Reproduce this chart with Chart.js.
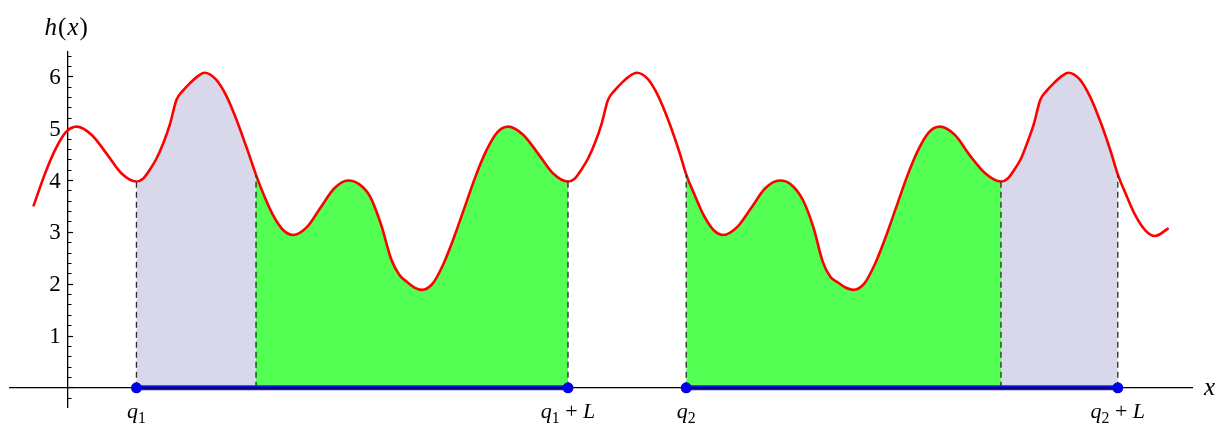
<!DOCTYPE html>
<html>
<head>
<meta charset="utf-8">
<script src="https://cdn.jsdelivr.net/npm/chart.js@4.4.0/dist/chart.umd.min.js"></script>
<style>
  html, body { margin: 0; padding: 0; background: #fff; }
  canvas { display: block; }
</style>
</head>
<body>
<canvas id="plot" width="1220" height="423"></canvas>
<script>
// curve h(x)
const curveX = [-0.50, -0.34, -0.18, -0.03, 0.13, 0.35, 0.57, 0.78, 1.00, 1.10,
    1.19, 1.29, 1.39, 1.49, 1.58, 1.68, 1.78, 1.88, 1.99, 2.15,
    2.31, 2.46, 2.61, 2.74, 2.86, 2.98, 3.13, 3.28, 3.48, 3.68,
    3.88, 4.08, 4.24, 4.40, 4.56, 4.71, 4.83, 4.93, 5.04, 5.15,
    5.31, 5.47, 5.62, 5.78, 5.94, 6.10, 6.25, 6.41, 6.63, 6.85,
    7.06, 7.28, 7.38, 7.47, 7.57, 7.67, 7.77, 7.86, 7.96, 8.06,
    8.16, 8.28, 8.44, 8.60, 8.76, 8.90, 9.00, 9.12, 9.25, 9.40,
    9.54, 9.74, 9.95, 10.15, 10.36, 10.52, 10.70, 10.85, 10.99, 11.10,
    11.20, 11.31, 11.43, 11.59, 11.75, 11.90, 12.06, 12.22, 12.38, 12.53,
    12.69, 12.91, 13.13, 13.35, 13.58, 13.68, 13.77, 13.87, 13.96, 14.06,
    14.15, 14.25, 14.35, 14.45, 14.56, 14.72, 14.88, 15.04, 15.18, 15.28,
    15.40, 15.53, 15.68, 15.82, 16.02]
const curveY = [3.50, 4.10, 4.60, 4.93, 5.04, 4.88, 4.51, 4.14, 3.98, 4.04,
    4.20, 4.42, 4.72, 5.10, 5.55, 5.74, 5.88, 6.00, 6.08, 5.96,
    5.63, 5.16, 4.61, 4.11, 3.70, 3.35, 3.05, 2.95, 3.10, 3.48,
    3.85, 4.00, 3.93, 3.69, 3.15, 2.47, 2.17, 2.05, 1.94, 1.89,
    2.01, 2.40, 2.90, 3.50, 4.10, 4.60, 4.93, 5.04, 4.88, 4.51,
    4.14, 3.98, 4.04, 4.20, 4.42, 4.72, 5.10, 5.55, 5.74, 5.88,
    6.00, 6.08, 5.96, 5.61, 5.09, 4.55, 4.12, 3.73, 3.34, 3.04,
    2.95, 3.10, 3.48, 3.85, 4.00, 3.93, 3.62, 3.10, 2.42, 2.14,
    2.04, 1.94, 1.89, 2.01, 2.40, 2.90, 3.50, 4.10, 4.60, 4.93,
    5.04, 4.88, 4.48, 4.14, 3.98, 4.04, 4.20, 4.42, 4.72, 5.10,
    5.55, 5.74, 5.88, 6.00, 6.08, 5.96, 5.61, 5.09, 4.55, 4.12,
    3.73, 3.34, 3.04, 2.93, 3.08]

// q1, split, q1+L, q2, split, q2+L
const markX = [1.00, 2.74, 7.28, 9.00, 13.58, 15.28]
const bandColors = ['rgb(216,216,234)', 'rgb(84,255,84)', null, 'rgb(84,255,84)', 'rgb(216,216,234)']
const tickLabels = ['q1', 'q1 + L', 'q2', 'q2 + L']
const tickAt = [0, 2, 3, 5]

const heightAt = (x) => curveY[curveX.findIndex(v => Math.abs(v - x) < 1e-9)]

function bandColor(ctx) {
    const m = (ctx.p0.parsed.x + ctx.p1.parsed.x) / 2
    for (let i = 0; i < bandColors.length; i++) {
        if (bandColors[i] && m > markX[i] && m < markX[i + 1]) return bandColors[i]
    }
    return 'rgba(0,0,0,0)'
}

const baseLine = [
    { x: markX[0], y: 0 }, { x: markX[2], y: 0 },
    { x: (markX[2] + markX[3]) / 2, y: null },
    { x: markX[3], y: 0 }, { x: markX[5], y: 0 }
]

const datasets = [{
    data: curveX.map((x, i) => ({ x: x, y: curveY[i] })),
    borderColor: 'rgb(255,0,0)',
    borderWidth: 2.6,
    pointRadius: 0,
    cubicInterpolationMode: 'monotone',
    fill: 'origin',
    segment: { backgroundColor: bandColor },
    order: 5
}]
markX.forEach(m => {
    datasets.push({
        data: [{ x: m, y: 0 }, { x: m, y: heightAt(m) }],
        borderColor: '#2a2a2a',
        borderWidth: 1.3,
        borderDash: [6, 4],
        pointRadius: 0,
        fill: false,
        order: 4
    })
})
datasets.push({
    data: baseLine, borderColor: 'rgb(20,20,235)', borderWidth: 5,
    pointRadius: 0, fill: false, order: 3
})
datasets.push({
    data: baseLine, borderColor: '#000', borderWidth: 1.3,
    pointRadius: 0, fill: false, order: 2
})
datasets.push({
    data: tickAt.map(i => ({ x: markX[i], y: 0 })),
    showLine: false, pointRadius: 5.5, pointBackgroundColor: 'rgb(0,0,235)',
    pointBorderWidth: 0, order: 1
})

// italic letters, upright digits/signs, optional subscripts
function drawRich(ctx, text, cx, baseline, size, subscripts) {
    const parts = []
    for (const ch of text) {
        const letter = /[A-Za-z]/.test(ch)
        const sub = subscripts && /[0-9]/.test(ch)
        const fs = sub ? size * 0.72 : size
        const font = (letter ? 'italic ' : '') + fs + 'px "Liberation Serif"'
        ctx.font = font
        parts.push({ ch, font, w: ctx.measureText(ch).width + (subscripts ? 0 : 1), dy: sub ? size * 0.22 : 0 })
    }
    const total = parts.reduce((s, p) => s + p.w, 0)
    let px = cx - total / 2
    for (const p of parts) {
        ctx.font = p.font
        ctx.fillText(p.ch, px, baseline + p.dy)
        px += p.w
    }
}

const mathText = {
    id: 'mathText',
    afterDraw(chart) {
        const { ctx, scales: { x, y } } = chart
        const x0 = x.getPixelForValue(0)
        const y0 = y.getPixelForValue(0)
        ctx.save()
        ctx.fillStyle = '#000'
        // y tick labels, from the scale's own ticks
        ctx.font = '23px "Liberation Serif"'
        ctx.textAlign = 'right'
        ctx.textBaseline = 'middle'
        y.ticks.filter(t => t.value >= 1).forEach(t => {
            ctx.fillText(String(t.value), x0 - 7, y.getPixelForValue(t.value) + 1)
        })
        ctx.textAlign = 'left'
        ctx.textBaseline = 'alphabetic'
        tickAt.forEach((idx, i) => {
            drawRich(ctx, tickLabels[i], x.getPixelForValue(markX[idx]), y0 + 30, 22, true)
        })
        drawRich(ctx, 'h(x)', x0 - 1, 35, 25, false)
        drawRich(ctx, 'x', x.right + 18, y0 + 7, 25, false)
        ctx.restore()
    }
}

const noPad = (scale) => {
    scale.paddingTop = 0
    scale.paddingBottom = 0
    scale.paddingLeft = 0
    scale.paddingRight = 0
}

const plot = new Chart(document.getElementById('plot'), {
    type: 'line',
    data: { datasets: datasets },
    plugins: [mathText],
    options: {
        responsive: false,
        animation: false,
        events: [],
        layout: { padding: { left: 10, right: 28, top: 52, bottom: 16 } },
        plugins: { legend: { display: false }, tooltip: { enabled: false } },
        scales: {
            x: {
                type: 'linear', min: -0.84, max: 16.36,
                position: { y: 0 },
                grid: { display: false },
                ticks: { display: false },
                border: { color: '#000', width: 1.3 },
                afterFit: noPad
            },
            y: {
                type: 'linear', axis: 'y', min: -0.37, max: 6.48,
                position: { x: 0 },
                grid: { drawOnChartArea: false, tickLength: -6, tickColor: '#000', tickWidth: 1.2 },
                border: { color: '#000', width: 1.3 },
                ticks: { stepSize: 1, includeBounds: false, display: false },
                afterFit: noPad
            },
            yMinor: {
                type: 'linear', axis: 'y', min: -0.37, max: 6.48,
                position: { x: 0 },
                grid: { drawOnChartArea: false, tickLength: -3.5, tickColor: '#000', tickWidth: 1 },
                border: { display: false },
                ticks: { stepSize: 0.2, includeBounds: false, display: false },
                afterFit: noPad
            }
        }
    }
})
</script>
</body>
</html>
